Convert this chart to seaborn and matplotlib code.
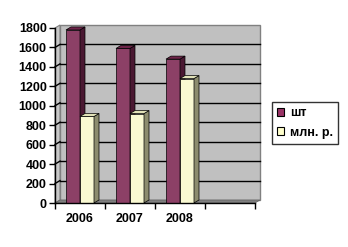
import matplotlib
matplotlib.use('Agg')
import matplotlib.pyplot as plt
import matplotlib.transforms as mtransforms
from matplotlib.patches import Polygon, Patch
from matplotlib.lines import Line2D
import seaborn as sns
import pandas as pd

# ---- data ----
years = ['2006', '2007', '2008']
series_names = ['шт', 'млн. р.']
sht_values = [1780, 1590, 1480]
mln_values = [890, 920, 1280]
y_ticks = [0, 200, 400, 600, 800, 1000, 1200, 1400, 1600, 1800]

front_colors = ['#993366', '#FFFFCC']
side_colors = ['#4A1832', '#8C8C6E']
top_colors = ['#6E2449', '#E2E2B8']

df = pd.DataFrame({
    'year': years * 2,
    'series': [series_names[0]] * len(years) + [series_names[1]] * len(years),
    'value': sht_values + mln_values,
})

plt.rcParams['font.family'] = ['Liberation Sans', 'DejaVu Sans']
plt.rcParams['font.weight'] = 'bold'

fig = plt.figure(figsize=(3.48, 2.47), dpi=100)
fig.patch.set_facecolor('white')
ax = fig.add_axes([55 / 348, 44 / 247, 200 / 348, 175 / 247])

sns.barplot(data=df, x='year', y='value', hue='series', order=years,
            hue_order=series_names, palette=front_colors, width=0.56,
            edgecolor='black', linewidth=0.5, legend=False, ax=ax)
bars = sorted(list(ax.patches), key=lambda p: p.get_x())

ax.set_xlim(-0.5, 3.5)
ax.set_ylim(0, 1800)
ax.patch.set_visible(False)
ax.set_xlabel('')
ax.set_ylabel('')

ident = mtransforms.IdentityTransform()
dx, dy = 5, 3

def disp(x, y):
    return ax.transData.transform((x, y))

# walls & floor
xl, yb = disp(-0.5, 0)
xr, yt = disp(3.5, 1800)
back = Polygon([(xl + dx, yb + dy), (xr + dx, yb + dy), (xr + dx, yt + dy), (xl + dx, yt + dy)],
               closed=True, facecolor='#C0C0C0', edgecolor='#808080', linewidth=1,
               transform=ident, zorder=0.5, clip_on=False)
left_wall = Polygon([(xl, yb), (xl + dx, yb + dy), (xl + dx, yt + dy), (xl, yt)],
                    closed=True, facecolor='#C8C8C8', edgecolor='#808080', linewidth=0.8,
                    transform=ident, zorder=0.55, clip_on=False)
floor = Polygon([(xl, yb), (xr, yb), (xr + dx, yb + dy), (xl + dx, yb + dy)],
                closed=True, facecolor='#808080', edgecolor='#606060', linewidth=0.5,
                transform=ident, zorder=0.7, clip_on=False)
ax.add_patch(back)
ax.add_patch(left_wall)

for v in y_ticks[1:-1]:
    _, yy = disp(0, v)
    ax.add_line(Line2D([xl + dx, xr + dx], [yy + dy, yy + dy], color='black', linewidth=1,
                       transform=ident, zorder=0.6, clip_on=False))
    ax.add_line(Line2D([xl, xl + dx], [yy, yy + dy], color='black', linewidth=1,
                       transform=ident, zorder=0.6, clip_on=False))
ax.add_patch(floor)

# 3D bar faces
for i, bar in enumerate(bars):
    x0 = bar.get_x()
    w = bar.get_width()
    h = bar.get_height()
    fc = bar.get_facecolor()
    s = 0 if fc[2] < 0.6 else 1
    z = 2 + i * 0.1
    bar.set_zorder(z)
    px0, py0 = disp(x0, 0)
    px1, py1 = disp(x0 + w, h)
    side = Polygon([(px1, py0), (px1 + dx, py0 + dy), (px1 + dx, py1 + dy), (px1, py1)],
                   closed=True, facecolor=side_colors[s], edgecolor='black', linewidth=0.5,
                   transform=ident, zorder=z + 0.01, clip_on=False)
    top = Polygon([(px0, py1), (px0 + dx, py1 + dy), (px1 + dx, py1 + dy), (px1, py1)],
                  closed=True, facecolor=top_colors[s], edgecolor='black', linewidth=0.5,
                  transform=ident, zorder=z + 0.02, clip_on=False)
    ax.add_patch(side)
    ax.add_patch(top)

# axes styling
for sp in ['top', 'right']:
    ax.spines[sp].set_visible(False)
for sp in ['left', 'bottom']:
    ax.spines[sp].set_color('black')
    ax.spines[sp].set_linewidth(1)
    ax.spines[sp].set_zorder(5)

ax.set_yticks(y_ticks)
ax.set_yticklabels([str(v) for v in y_ticks])
ax.tick_params(axis='y', length=4, width=1, direction='out', labelsize=9, pad=2, colors='black')
ax.set_xticks(range(len(years)))
ax.set_xticklabels(years)
ax.set_xticks([-0.5, 0.5, 1.5, 2.5, 3.5], minor=True)
ax.tick_params(axis='x', which='major', length=0, labelsize=9, pad=7)
ax.tick_params(axis='x', which='minor', length=4, width=1, direction='out')

handles = [Patch(facecolor=front_colors[k], edgecolor='black', linewidth=0.8) for k in range(2)]
leg = fig.legend(handles, series_names, loc='center',
                 bbox_to_anchor=(305 / 348, 1 - 123 / 247), frameon=True, fancybox=False,
                 prop={'size': 9, 'weight': 'bold'}, handlelength=0.6, handleheight=0.6,
                 handletextpad=0.45, labelspacing=0.6, borderpad=0.4, borderaxespad=0)
leg.get_frame().set_edgecolor('black')
leg.get_frame().set_linewidth(1)

fig.savefig('out.png', dpi=100, facecolor='white')
